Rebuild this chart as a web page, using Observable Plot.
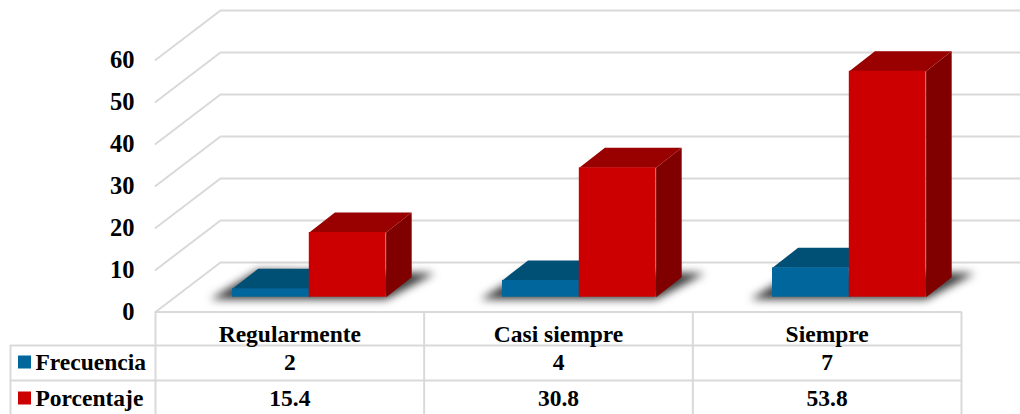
<!DOCTYPE html>
<html>
<head>
<meta charset="utf-8">
<script src="https://cdn.jsdelivr.net/npm/d3@7"></script>
<script src="https://cdn.jsdelivr.net/npm/@observablehq/plot@0.6"></script>
<style>html,body{margin:0;padding:0;background:#fff;overflow:hidden}</style>
</head>
<body>
<div id="chart"></div>
<script>
const categories = ["Regularmente", "Casi siempre", "Siempre"];
const frecuencia = [2, 4, 7];
const porcentaje = [15.4, 30.8, 53.8];
const tickValues = [0, 10, 20, 30, 40, 50, 60];
const seriesNames = ["Frecuencia", "Porcentaje"];

const width = 1020, height = 414;
const mL = 155, mR = 59, mT = 59.5, mB = 102.5;
const pxX = (width - mL - mR) / 3;
const pxY = (height - mT - mB) / 60;
const dx = px => px / pxX, dy = px => px / pxY;

const BLUE = "#00669b", BLUE_TOP = "#004f75", RED = "#cc0000", RED_TOP = "#990000", RED_SIDE = "#800000";
const GRID = "#d9d9d9";

// Layout offsets, in scale units
const gap = dx(77), barW = dx(76.8), step = dx(270), depthX = dx(25.6), depthY = dy(20);
const baseLift = dy(14.8), wallX = dx(65), wallY = dy(49.5);
const rightEnd = 3 + dx(59);
const tableLeft = dx(10 - 155);
const rowY = [0, dy(-33.5), dy(-68.5), dy(-102.5)];
const rowText = [dy(-22.5), dy(-50.5), dy(-86.5)];

function poly(pts, fill, extra = {}) {
  return Plot.line(pts, {x: "x", y: "y", z: "id", fill, stroke: "none", ...extra});
}
function box(series, off) {
  const front = [], top = [], side = [];
  series.forEach((v, i) => {
    const x0 = i * step + gap + off, x1 = x0 + barW, b = baseLift, t = baseLift + v;
    front.push({x1: x0, x2: x1, y1: b, y2: t});
    [[x0, t], [x1, t], [x1 + depthX, t + depthY], [x0 + depthX, t + depthY]].forEach(([x, y]) => top.push({id: i, x, y}));
    [[x1, b], [x1 + depthX, b + depthY], [x1 + depthX, t + depthY], [x1, t]].forEach(([x, y]) => side.push({id: i, x, y}));
  });
  return {front, top, side};
}
const blue = box(frecuencia, 0), red = box(porcentaje, barW);

const shadow = [];
categories.forEach((c, i) => {
  const x0 = i * step + gap, x1 = x0 + 2 * barW;
  [[x0 - dx(22), baseLift - dy(2)], [x1, baseLift - dy(2)], [x1 + depthX + dx(23), baseLift + dy(24)], [x0 + depthX, baseLift + dy(27)]]
    .forEach(([x, y]) => shadow.push({id: i, x, y}));
});

const grid = tickValues.flatMap(v => [
  {id: v, x: 0, y: v},
  {id: v, x: wallX, y: v + wallY},
  {id: v, x: rightEnd, y: v + wallY}
]);

const cols = categories.map((c, i) => ({c, i, f: frecuencia[i], p: porcentaje[i]}));
const textOpts = {fontSize: 23.5, fontWeight: "bold", fill: "black", lineAnchor: "middle"};

const chart = Plot.plot({
  width, height,
  marginLeft: mL, marginRight: mR, marginTop: mT, marginBottom: mB,
  x: {domain: [0, 3], axis: null},
  y: {domain: [0, 60], axis: null},
  style: {fontFamily: "'Liberation Serif', serif", background: "#fff", color: "#000", overflow: "hidden"},
  marks: [
    Plot.line(grid, {x: "x", y: "y", z: "id", stroke: GRID, strokeWidth: 2}),
    poly(shadow, "#3a3a3a", {imageFilter: "blur(4px)"}),
    poly(blue.side, BLUE_TOP),
    poly(blue.top, BLUE_TOP),
    Plot.rect(blue.front, {x1: "x1", x2: "x2", y1: "y1", y2: "y2", fill: BLUE}),
    poly(red.side, RED_SIDE),
    poly(red.top, RED_TOP),
    Plot.rect(red.front, {x1: "x1", x2: "x2", y1: "y1", y2: "y2", fill: RED}),

    Plot.axisY({ticks: tickValues, tickSize: 0, tickPadding: 21, fontSize: 24.5, fontWeight: "bold", label: null, fill: "black"}),

    Plot.ruleY([rowY[0]], {x1: 0, x2: 3, stroke: GRID, strokeWidth: 2}),
    Plot.ruleY([rowY[1], rowY[2]], {x1: tableLeft, x2: 3, stroke: GRID, strokeWidth: 2}),
    Plot.ruleX([0, 1, 2, 3], {y1: rowY[0], y2: rowY[3], stroke: GRID, strokeWidth: 2}),
    Plot.ruleX([tableLeft], {y1: rowY[1], y2: rowY[3], stroke: GRID, strokeWidth: 2}),

    Plot.text(cols, {x: d => d.i + 0.5, y: () => rowText[0], text: "c", ...textOpts}),
    Plot.text(cols, {x: d => d.i + 0.5, y: () => rowText[1], text: d => String(d.f), ...textOpts}),
    Plot.text(cols, {x: d => d.i + 0.5, y: () => rowText[2], text: d => d.p.toFixed(1), ...textOpts}),
    Plot.text(seriesNames, {x: () => dx(35 - 155), y: (d, i) => rowText[i + 1], text: d => d, textAnchor: "start", ...textOpts}),
    Plot.rect(seriesNames, {
      x1: () => dx(18 - 155), x2: () => dx(31 - 155),
      y1: (d, i) => rowText[i + 1] + dy(-6.5), y2: (d, i) => rowText[i + 1] + dy(6.5),
      fill: (d, i) => i === 0 ? BLUE : RED
    })
  ]
});
document.getElementById("chart").append(chart);
</script>
</body>
</html>
